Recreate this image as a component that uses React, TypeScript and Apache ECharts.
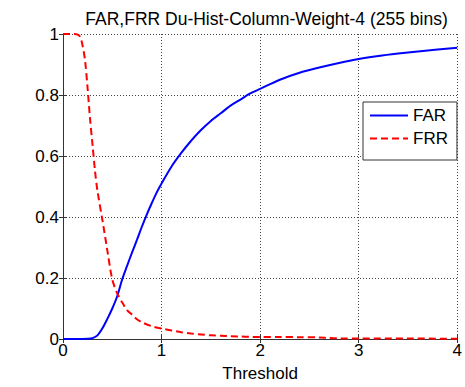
import React, { useEffect, useRef } from "react";
import * as echarts from "echarts";

const TITLE = "FAR,FRR Du-Hist-Column-Weight-4 (255 bins)";
const X_NAME = "Threshold";

const farThreshold = [0, 0.1, 0.2, 0.25, 0.3, 0.35, 0.4, 0.45, 0.5, 0.55, 0.6, 0.65, 0.7, 0.75, 0.8, 0.85, 0.9, 0.95, 1.0, 1.1, 1.2, 1.3, 1.4, 1.5, 1.6, 1.7, 1.8, 1.9, 2.0, 2.2, 2.4, 2.6, 2.8, 3.0, 3.2, 3.4, 3.6, 3.8, 4.0];
const farValues = [0, 0, 0, 0.0005, 0.003, 0.012, 0.035, 0.066, 0.1, 0.14, 0.195, 0.24, 0.283, 0.325, 0.368, 0.408, 0.445, 0.48, 0.51, 0.565, 0.61, 0.65, 0.685, 0.715, 0.74, 0.765, 0.785, 0.805, 0.82, 0.85, 0.873, 0.89, 0.905, 0.918, 0.928, 0.936, 0.943, 0.949, 0.955];

const frrThreshold = [0, 0.1, 0.15, 0.175, 0.2, 0.225, 0.25, 0.275, 0.3, 0.325, 0.35, 0.4, 0.45, 0.5, 0.55, 0.6, 0.65, 0.7, 0.75, 0.8, 0.9, 1.0, 1.1, 1.2, 1.3, 1.4, 1.5, 1.6, 1.7, 1.8, 1.9, 2.0, 2.2, 2.4, 2.6, 2.7, 2.8, 3.0, 3.5, 4.0];
const frrValues = [1, 1, 0.998, 0.99, 0.96, 0.91, 0.82, 0.72, 0.635, 0.55, 0.485, 0.39, 0.29, 0.195, 0.15, 0.12, 0.095, 0.08, 0.065, 0.055, 0.042, 0.034, 0.028, 0.022, 0.018, 0.015, 0.012, 0.011, 0.009, 0.008, 0.007, 0.0065, 0.0065, 0.006, 0.005, 0.003, 0.002, 0.002, 0.0015, 0.001];

const FONT = "Liberation Sans";

export default function App() {
  const ref = useRef<HTMLDivElement>(null);
  useEffect(() => {
    if (!ref.current) return;
    const chart = echarts.init(ref.current, undefined, { renderer: "svg" });
    const gridLine = { show: true, lineStyle: { color: "#444", type: [1, 2], width: 1 } };
    const axisLine = { show: true, lineStyle: { color: "#333", width: 1 } };
    const tick = { show: true, inside: true, length: 4, lineStyle: { color: "#333" } };
    chart.setOption({
      animation: false,
      backgroundColor: "#fff",
      textStyle: { fontFamily: FONT },
      title: {
        text: TITLE,
        left: 261.5,
        textAlign: "center",
        top: 5,
        textStyle: { fontFamily: FONT, fontSize: 17.5, fontWeight: "normal", color: "#000" },
      },
      grid: { left: 63, right: 5, top: 34, bottom: 43, containLabel: false },
      legend: {
        left: 363,
        top: 102,
        orient: "vertical",
        itemWidth: 38,
        itemHeight: 10,
        itemGap: 6,
        padding: [5, 9, 13, 6],
        backgroundColor: "#fff",
        borderColor: "#333",
        borderWidth: 1,
        borderRadius: 0,
        itemStyle: { opacity: 0 },
        textStyle: { fontFamily: FONT, fontSize: 17, color: "#000" },
        data: ["FAR", "FRR"],
      },
      xAxis: [
        {
          type: "value",
          min: 0,
          max: 4,
          interval: 1,
          name: X_NAME,
          nameLocation: "middle",
          nameGap: 26,
          nameTextStyle: { fontFamily: FONT, fontSize: 17, color: "#000" },
          axisLine,
          axisTick: tick,
          axisLabel: { fontFamily: FONT, fontSize: 17, color: "#000", margin: 3 },
          splitLine: gridLine,
        },
        {
          type: "value",
          position: "top",
          min: 0,
          max: 4,
          interval: 1,
          axisLine,
          axisTick: tick,
          axisLabel: { show: false },
          splitLine: { show: false },
        },
      ],
      yAxis: [
        {
          type: "value",
          min: 0,
          max: 1,
          interval: 0.2,
          axisLine,
          axisTick: tick,
          axisLabel: { fontFamily: FONT, fontSize: 17, color: "#000", margin: 4 },
          splitLine: gridLine,
        },
        {
          type: "value",
          position: "right",
          min: 0,
          max: 1,
          interval: 0.2,
          axisLine,
          axisTick: tick,
          axisLabel: { show: false },
          splitLine: { show: false },
        },
      ],
      series: [
        {
          name: "FAR",
          type: "line",
          xAxisIndex: 0,
          yAxisIndex: 0,
          data: farThreshold.map((t, i) => [t, farValues[i]]),
          showSymbol: false,
          symbol: "none",
          smooth: 0.3,
          lineStyle: { color: "#0000ff", width: 2 },
          itemStyle: { color: "#0000ff" },
        },
        {
          name: "FRR",
          type: "line",
          xAxisIndex: 0,
          yAxisIndex: 0,
          data: frrThreshold.map((t, i) => [t, frrValues[i]]),
          showSymbol: false,
          symbol: "none",
          smooth: 0.3,
          lineStyle: { color: "#ff0000", width: 2, type: [7, 4] },
          itemStyle: { color: "#ff0000" },
        },
      ],
    });
    return () => chart.dispose();
  }, []);
  return (
    <div
      ref={ref}
      style={{ position: "absolute", left: 0, top: 0, width: 465, height: 387 }}
    />
  );
}
